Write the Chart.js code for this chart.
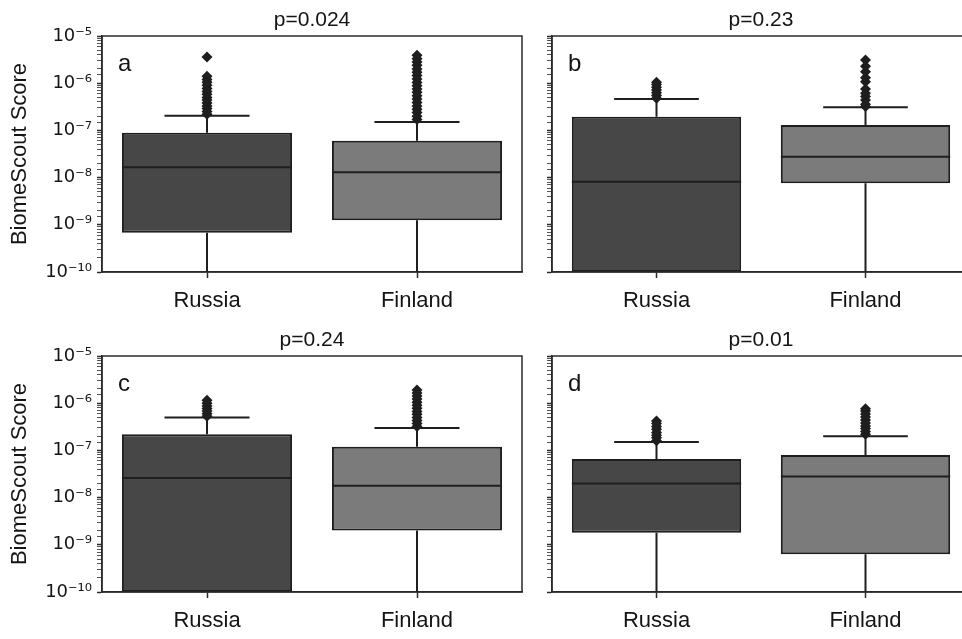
<!DOCTYPE html>
<html>
<head>
<meta charset="utf-8">
<title>BiomeScout Score boxplots</title>
<script src="https://cdn.jsdelivr.net/npm/chart.js@4.4.1/dist/chart.umd.min.js"></script>
<style>
    html, body { margin: 0; padding: 0; background: #fff; overflow: hidden; }
    #wrap { position: relative; width: 962px; height: 639px; overflow: hidden; }
    .panel { position: absolute; }
</style>
</head>
<body>
<div id="wrap">
    <canvas class="panel" id="panelA" width="540" height="320" style="left:0px;top:0px;"></canvas>
    <canvas class="panel" id="panelB" width="460" height="320" style="left:530px;top:0px;"></canvas>
    <canvas class="panel" id="panelC" width="540" height="319" style="left:0px;top:320px;"></canvas>
    <canvas class="panel" id="panelD" width="460" height="319" style="left:530px;top:320px;"></canvas>
</div>
<script>
// data (one entry per panel a, b, c, d; inner pairs = [Russia, Finland])
const categories = ['Russia', 'Finland'];
const panelLetters = ['a', 'b', 'c', 'd'];
const pValues = ['p=0.024', 'p=0.23', 'p=0.24', 'p=0.01'];

const boxLow = [[6.8e-10, 1.25e-9], [1e-10, 7.6e-9], [1e-10, 2e-9], [1.8e-9, 6.3e-10]];
const boxMedian = [[1.66e-8, 1.3e-8], [8.2e-9, 2.78e-8], [2.6e-8, 1.78e-8], [2e-8, 2.8e-8]];
const boxHigh = [[8.9e-8, 6e-8], [1.95e-7, 1.3e-7], [2.2e-7, 1.2e-7], [6.6e-8, 8e-8]];
const whiskerHigh = [[2.05e-7, 1.5e-7], [4.6e-7, 3.1e-7], [5e-7, 3e-7], [1.5e-7, 2e-7]];
const whiskerLow = [[1e-11, 1e-11], [1e-11, 1e-11], [1e-11, 1e-11], [1e-11, 1e-11]];

const outliersRussia = [
    [2.2e-7, 2.5e-7, 2.9e-7, 3.3e-7, 3.8e-7, 4.4e-7, 5e-7, 5.8e-7, 6.7e-7, 7.7e-7, 9e-7, 1.05e-6, 1.2e-6, 1.4e-6, 3.6e-6],
    [4.8e-7, 5.5e-7, 6.3e-7, 7.2e-7, 8.2e-7, 9.4e-7, 1.05e-6],
    [5.3e-7, 6e-7, 6.8e-7, 7.7e-7, 8.7e-7, 1e-6, 1.15e-6],
    [1.6e-7, 1.85e-7, 2.1e-7, 2.4e-7, 2.8e-7, 3.2e-7, 3.7e-7, 4.2e-7]
];
const outliersFinland = [
    [1.7e-7, 2e-7, 2.4e-7, 2.8e-7, 3.3e-7, 3.9e-7, 4.6e-7, 5.4e-7, 6.4e-7, 7.5e-7, 8.8e-7, 1.04e-6, 1.22e-6, 1.45e-6, 1.7e-6, 2e-6, 2.4e-6, 2.8e-6, 3.3e-6, 3.9e-6],
    [3.2e-7, 3.6e-7, 4.4e-7, 5.2e-7, 6.1e-7, 7.5e-7, 1.07e-6, 1.3e-6, 1.75e-6, 2.3e-6, 3.1e-6],
    [3.2e-7, 3.7e-7, 4.3e-7, 5e-7, 5.8e-7, 6.7e-7, 7.8e-7, 9e-7, 1.05e-6, 1.22e-6, 1.42e-6, 1.65e-6, 1.9e-6],
    [2.2e-7, 2.5e-7, 2.9e-7, 3.3e-7, 3.8e-7, 4.4e-7, 5.1e-7, 5.9e-7, 6.8e-7, 7.6e-7]
];

const yMin = 1e-10;
const yMax = 1e-5;

const boxColors = ['#474747', '#7b7b7b'];
const lineColor = '#1e1e1e';
const textColor = '#141414';

const superDigits = { '-': '\u207B', '0': '\u2070', '1': '\u00B9', '2': '\u00B2', '3': '\u00B3', '4': '\u2074', '5': '\u2075', '6': '\u2076', '7': '\u2077', '8': '\u2078', '9': '\u2079' };

function isPow10(v) {
    const l = Math.log10(v);
    return Math.abs(l - Math.round(l)) < 1e-6;
}

function powLabel(v) {
    const exp = String(Math.round(Math.log10(v)));
    return '10' + exp.split('').map(ch => superDigits[ch]).join('');
}

// whiskers, caps, medians, frame and panel letter
const boxPartsPlugin = {
    id: 'boxParts',
    beforeDatasetsDraw(chart) {
        const p = chart.options.plugins.boxParts.panel;
        const meta = chart.getDatasetMeta(0);
        const y = chart.scales.y;
        const area = chart.chartArea;
        const ctx = chart.ctx;
        ctx.save();
        ctx.beginPath();
        ctx.rect(area.left, area.top, area.right - area.left, area.bottom - area.top);
        ctx.clip();
        ctx.strokeStyle = lineColor;
        ctx.lineWidth = 2;
        meta.data.forEach((bar, i) => {
            const x = bar.x;
            const capHalf = bar.width / 4;
            const yHi = y.getPixelForValue(whiskerHigh[p][i]);
            const yLo = y.getPixelForValue(whiskerLow[p][i]);
            const yQ3 = y.getPixelForValue(boxHigh[p][i]);
            const yQ1 = y.getPixelForValue(boxLow[p][i]);
            ctx.beginPath();
            ctx.moveTo(x, yQ3);
            ctx.lineTo(x, yHi);
            ctx.moveTo(x - capHalf, yHi);
            ctx.lineTo(x + capHalf, yHi);
            ctx.moveTo(x, yQ1);
            ctx.lineTo(x, yLo);
            ctx.stroke();
        });
        ctx.restore();
    },
    afterDatasetDraw(chart, args) {
        if (args.index !== 0) return;
        const p = chart.options.plugins.boxParts.panel;
        const y = chart.scales.y;
        const ctx = chart.ctx;
        ctx.save();
        ctx.strokeStyle = lineColor;
        ctx.lineWidth = 2;
        args.meta.data.forEach((bar, i) => {
            const ym = y.getPixelForValue(boxMedian[p][i]);
            ctx.beginPath();
            ctx.moveTo(bar.x - bar.width / 2, ym);
            ctx.lineTo(bar.x + bar.width / 2, ym);
            ctx.stroke();
        });
        ctx.restore();
    },
    afterDraw(chart) {
        const p = chart.options.plugins.boxParts.panel;
        const area = chart.chartArea;
        const ctx = chart.ctx;
        ctx.save();
        ctx.strokeStyle = '#2a2a2a';
        ctx.lineWidth = 1.5;
        ctx.strokeRect(area.left, area.top, area.right - area.left, area.bottom - area.top);
        ctx.fillStyle = textColor;
        ctx.font = '24px "Liberation Sans", Arial, sans-serif';
        ctx.textBaseline = 'alphabetic';
        ctx.textAlign = 'left';
        ctx.fillText(panelLetters[p], area.left + 16, area.top + 35);
        ctx.restore();
    }
};

function makePanel(canvasId, p, leftSide) {
    const canvas = document.getElementById(canvasId);
    const yAxisWidth = leftSide ? 102 : 22;
    const rightPad = leftSide ? 18 : 20;
    const xAxisHeight = canvas.height - 272;

    return new Chart(canvas.getContext('2d'), {
        type: 'bar',
        data: {
            labels: categories,
            datasets: [{
                label: 'box',
                data: categories.map((c, i) => [boxLow[p][i], boxHigh[p][i]]),
                backgroundColor: boxColors,
                borderColor: lineColor,
                borderWidth: 2,
                borderSkipped: false,
                barPercentage: 0.81,
                categoryPercentage: 1,
                order: 2
            }, {
                type: 'line',
                label: 'outliers',
                data: outliersRussia[p].map(v => ({ x: 'Russia', y: v }))
                    .concat(outliersFinland[p].map(v => ({ x: 'Finland', y: v }))),
                showLine: false,
                pointStyle: 'rectRot',
                pointRadius: 5.5,
                pointBackgroundColor: lineColor,
                pointBorderWidth: 0,
                order: 1
            }]
        },
        options: {
            responsive: false,
            animation: false,
            events: [],
            layout: { padding: { top: 0, right: rightPad, bottom: 0, left: 0 } },
            plugins: {
                legend: { display: false },
                tooltip: { enabled: false },
                title: {
                    display: true,
                    text: pValues[p],
                    fullSize: false,
                    color: textColor,
                    font: { family: '"Liberation Sans", Arial, sans-serif', size: 21, weight: 'normal', lineHeight: 1.2 },
                    padding: { top: 8, bottom: 2.8 }
                },
                boxParts: { panel: p }
            },
            scales: {
                x: {
                    type: 'category',
                    offset: true,
                    grid: { offset: false, drawOnChartArea: false, tickLength: 6, color: '#2a2a2a', tickWidth: 1.5 },
                    border: { display: true, color: '#2a2a2a', width: 1.5 },
                    ticks: {
                        color: textColor,
                        padding: 10,
                        font: { family: '"Liberation Sans", Arial, sans-serif', size: 22 }
                    },
                    afterFit: scale => { scale.height = xAxisHeight; }
                },
                y: {
                    type: 'logarithmic',
                    min: yMin,
                    max: yMax,
                    grid: {
                        drawOnChartArea: false,
                        tickLength: 5,
                        color: ctx => (ctx.tick && isPow10(ctx.tick.value)) ? '#2a2a2a' : '#555',
                        tickWidth: ctx => (ctx.tick && isPow10(ctx.tick.value)) ? 1.5 : 1
                    },
                    border: { display: true, color: '#2a2a2a', width: 1.5 },
                    ticks: {
                        autoSkip: false,
                        color: textColor,
                        padding: 5,
                        font: { family: '"DejaVu Sans", sans-serif', size: 18 },
                        callback: v => (leftSide && isPow10(v)) ? powLabel(v) : ''
                    },
                    title: {
                        display: leftSide,
                        text: 'BiomeScout Score',
                        color: textColor,
                        font: { family: '"Liberation Sans", Arial, sans-serif', size: 22 },
                        padding: { top: 7, bottom: 0 }
                    },
                    afterFit: scale => { scale.width = yAxisWidth; }
                }
            }
        },
        plugins: [boxPartsPlugin]
    });
}

makePanel('panelA', 0, true);
makePanel('panelB', 1, false);
makePanel('panelC', 2, true);
makePanel('panelD', 3, false);
</script>
</body>
</html>
